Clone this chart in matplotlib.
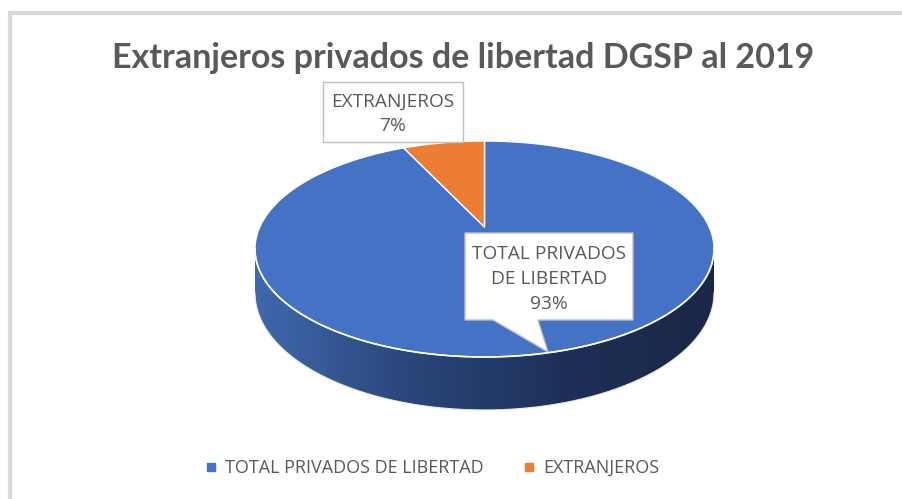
import numpy as np
import matplotlib
matplotlib.use("Agg")
import matplotlib.pyplot as plt
from matplotlib.patches import Polygon
from matplotlib.lines import Line2D
from matplotlib.colors import LinearSegmentedColormap

# datos
categorias = ["TOTAL PRIVADOS DE LIBERTAD", "EXTRANJEROS"]
valores = [93, 7]
etiquetas = ["TOTAL PRIVADOS\nDE LIBERTAD\n93%", "EXTRANJEROS\n7%"]
colores = ["#4472C4", "#ED7D31"]
titulo = "Extranjeros privados de libertad DGSP al 2019"

plt.rcParams['font.family'] = ['Open Sans', 'DejaVu Sans']

fig = plt.figure(figsize=(9.02, 4.99), dpi=100)
ax = fig.add_axes([0, 0, 1, 1])
ax.set_xlim(0, 902)
ax.set_ylim(499, 0)
ax.axis('off')

# geometria del pastel 3D (perspectiva)
CX, CY = 484.5, 227.0
A, B, K, D = 224.7, 103.5, 0.2037, 42.2


def proj(theta, drop=0.0):
    t = np.radians(theta)
    u, v = np.sin(t), np.cos(t)
    den = 1 + K * v
    return CX + A * u / den, CY - B * v / den + drop / den


# lado visible (frente)
ta = np.degrees(np.arccos(-K))
tb = 360 - ta
th = np.linspace(ta, tb, 300)
xt, yt = proj(th)
xb, yb = proj(th[::-1], D)
lado = Polygon(np.column_stack([np.r_[xt, xb], np.r_[yt, yb]]),
               closed=True, facecolor='none', edgecolor='none')
ax.add_patch(lado)
cmap = LinearSegmentedColormap.from_list('lado', ['#4068AE', '#2A467A', '#1E3058', '#1A2745'])
grad = np.linspace(0, 1, 256).reshape(1, -1)
im = ax.imshow(grad, cmap=cmap, extent=[xt.min(), xt.max(), yb.max() + 2, yt.min() - 2],
               aspect='auto', zorder=1)
im.set_clip_path(lado)
ax.plot(xb, yb, color='#e8ecf4', lw=0.8, zorder=2)

# cara superior
acum = np.cumsum([0] + valores) / sum(valores) * 360
for i, c in enumerate(colores):
    th = np.linspace(acum[i], acum[i + 1], 200)
    x, y = proj(th)
    pts = np.column_stack([np.r_[CX, x], np.r_[CY, y]])
    ax.add_patch(Polygon(pts, closed=True, facecolor=c, edgecolor='white',
                         lw=1.0, joinstyle='round', zorder=3))
th = np.linspace(ta, tb, 200)
x, y = proj(th)
ax.plot(x, y, color='white', lw=1.2, zorder=4)

# etiquetas (llamadas)
txt = '#595959'
caja = '#BFBFBF'
ax.add_patch(Polygon([(323, 82), (463, 82), (463, 142), (323, 142)], closed=True,
                     facecolor='white', edgecolor=caja, lw=1, zorder=5))
ax.text(393, 114, etiquetas[1], ha='center', va='center', fontsize=13.8,
        color=txt, linespacing=1.45, zorder=6)

ax.add_patch(Polygon([(465, 233), (633, 233), (633, 320), (538, 320), (548, 352),
                      (493, 320), (465, 320)], closed=True,
                     facecolor='white', edgecolor=caja, lw=1, zorder=5))
ax.text(549, 279, etiquetas[0], ha='center', va='center', fontsize=13.8,
        color=txt, linespacing=1.5, zorder=6)

# titulo
ax.text(463, 58, titulo, ha='center', va='center', fontsize=24.5, fontweight='bold',
        color=txt, family=['Lato', 'DejaVu Sans'])

# marco
ax.plot([10, 902], [12.5, 12.5], color='#D9D9D9', lw=3, solid_capstyle='butt')
ax.plot([10, 10], [11, 499], color='#D9D9D9', lw=3, solid_capstyle='butt')

# leyenda
handles = [Line2D([], [], ls='none', marker='s', markersize=5.5, color=c) for c in colores]
ax.legend(handles, categorias, loc='center', bbox_to_anchor=(0.478, 0.062), ncol=2,
          frameon=False, fontsize=13, labelcolor=txt, handletextpad=0.3,
          columnspacing=2.1, handlelength=0.9)

fig.savefig('out.png', dpi=100)
